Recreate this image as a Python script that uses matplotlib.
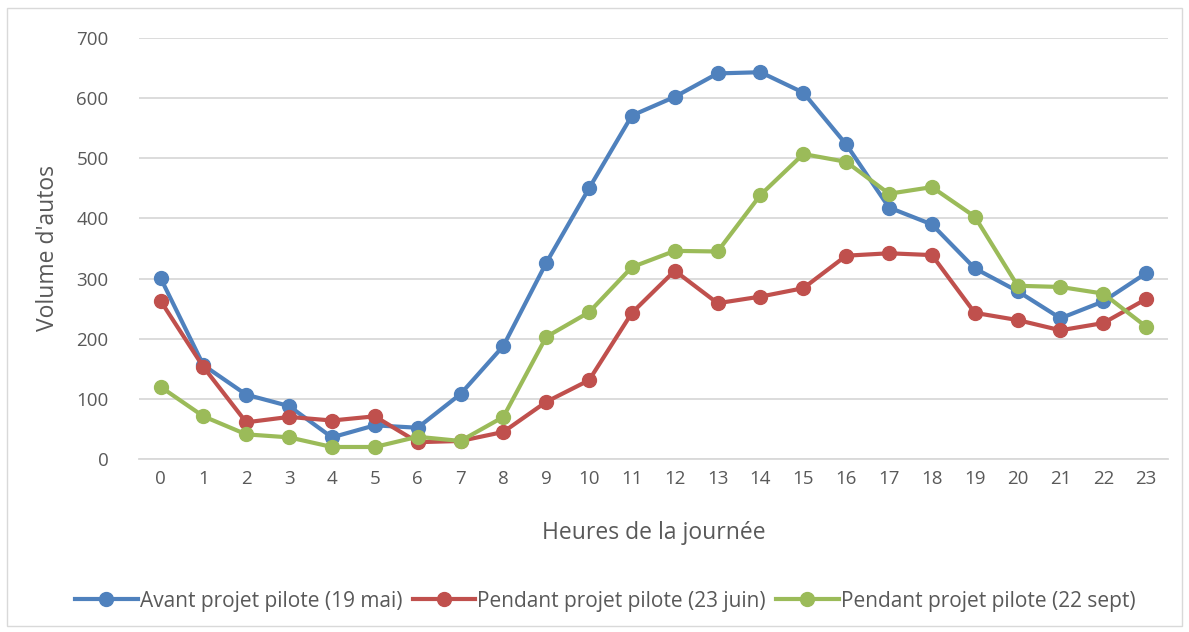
import matplotlib.pyplot as plt
from matplotlib.patches import Rectangle

# === Data ===
hours = list(range(24))
avant_19mai = [301, 156, 107, 88, 36, 56, 52, 108, 188, 326, 450, 571, 602, 641, 643, 609,
               523, 418, 390, 317, 279, 234, 262, 309]
pendant_23juin = [263, 153, 61, 70, 64, 71, 28, 30, 45, 95, 131, 243, 313, 259, 270, 284,
                  338, 342, 339, 243, 231, 214, 226, 266]
pendant_22sept = [120, 71, 41, 36, 20, 20, 37, 30, 70, 203, 244, 319, 346, 345, 439, 507,
                  494, 441, 452, 403, 288, 286, 275, 220]
series_labels = ["Avant projet pilote (19 mai)",
                 "Pendant projet pilote (23 juin)",
                 "Pendant projet pilote (22 sept)"]
colors = ["#4F81BD", "#C0504D", "#9BBB59"]

plt.rcParams['font.family'] = ['Open Sans', 'DejaVu Sans']

fig = plt.figure(figsize=(11.89, 6.32), dpi=100)
ax = fig.add_axes([0.117, 0.2737, 0.865, 0.6663])

for vals, lab, col in zip([avant_19mai, pendant_23juin, pendant_22sept], series_labels, colors):
    ax.plot(hours, vals, color=col, lw=3, marker='o', ms=10, label=lab, solid_joinstyle='round')

ax.set_xlim(-0.5, 23.5)
ax.set_ylim(0, 700)
ax.set_yticks(range(0, 701, 100))
ax.set_xticks(hours)
ax.grid(axis='y', color='#D9D9D9', lw=1.3)
ax.set_axisbelow(True)
for s in ['top', 'right', 'left']:
    ax.spines[s].set_visible(False)
ax.spines['bottom'].set_color('#D9D9D9')
ax.spines['bottom'].set_linewidth(1.3)
ax.tick_params(axis='both', length=0, labelsize=13.5, colors='#595959')
ax.tick_params(axis='y', pad=22)
ax.tick_params(axis='x', pad=8)

ax.set_xlabel("Heures de la journée", fontsize=16.5, color='#595959', labelpad=24)
ax.set_ylabel("Volume d'autos", fontsize=16.5, color='#595959', labelpad=12)

fig.legend(loc='center', bbox_to_anchor=(0.509, 0.049), ncol=3, frameon=False,
           fontsize=15, handlelength=3.0, handletextpad=0.1, columnspacing=0.5,
           labelcolor='#595959', markerscale=1.0)

# chart border
fig.patches.append(Rectangle((0.006, 0.01), 0.988, 0.978, transform=fig.transFigure,
                             fill=False, edgecolor='#D9D9D9', lw=1))

fig.savefig("out.png", dpi=100)
